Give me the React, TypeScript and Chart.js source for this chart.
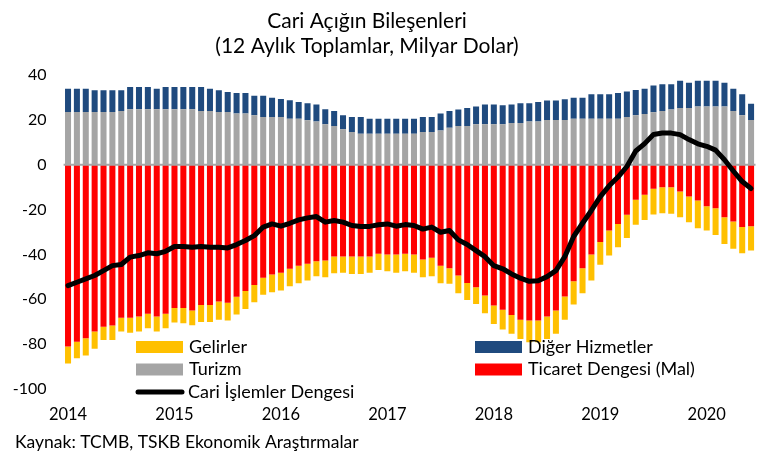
import { useEffect, useRef } from 'react';
import { Chart, registerables } from 'chart.js';

Chart.register(...registerables);

const years = ['2014', '2015', '2016', '2017', '2018', '2019', '2020'];
const monthsPerYear = 12;
const monthCount = 78; // Jan 2014 .. Jun 2020
const categories: string[] = [];
for (let i = 0; i < monthCount; i++) {
  const y = years[Math.floor(i / monthsPerYear)];
  const m = String((i % monthsPerYear) + 1).padStart(2, '0');
  categories.push(`${y}-${m}`);
}

// Ticaret Dengesi (Mal)
const ticaret = [
  -81.1, -78.9, -77.4, -74.4, -72.2, -71.7, -68.2, -68.2, -67.7, -66.5, -67.7, -66.5,
  -63.9, -63.9, -65.0, -62.5, -62.5, -61.0, -61.6, -58.9, -56.3, -53.6, -50.4, -49.0,
  -48.2, -46.4, -45.0, -44.2, -43.0, -42.7, -40.9, -40.9, -40.9, -40.9, -40.9, -39.7,
  -40.0, -40.0, -39.7, -40.0, -42.3, -41.5, -45.0, -46.2, -49.4, -52.7, -54.6, -58.3,
  -62.8, -64.7, -67.0, -69.1, -69.5, -69.5, -67.7, -65.0, -58.8, -52.0, -46.2, -40.0,
  -34.5, -29.3, -26.4, -22.3, -15.6, -13.4, -10.7, -10.0, -10.0, -11.9, -14.2, -15.9,
  -18.5, -19.4, -23.4, -25.3, -27.8, -27.4,
];

// Gelirler
const gelirler = [
  -7.5, -7.4, -7.7, -7.7, -5.9, -6.4, -6.2, -6.7, -6.7, -6.4, -6.7, -6.4,
  -6.4, -6.8, -6.6, -7.6, -7.6, -8.1, -7.9, -7.9, -8.0, -7.7, -7.6, -7.9,
  -7.9, -7.8, -7.9, -7.4, -6.7, -7.5, -7.5, -7.3, -7.8, -7.8, -7.3, -7.2,
  -7.5, -8.2, -7.8, -8.2, -7.9, -8.2, -7.9, -6.9, -7.9, -7.6, -7.5, -7.9,
  -8.2, -8.8, -8.4, -8.6, -9.7, -9.7, -10.0, -10.4, -10.3, -10.3, -11.1, -11.6,
  -10.1, -11.2, -10.4, -10.4, -11.2, -11.2, -11.5, -11.6, -11.9, -11.5, -11.4, -12.4,
  -10.8, -11.9, -11.9, -12.2, -11.7, -10.9,
];

// Turizm
const turizm = [
  23.5, 23.5, 23.5, 23.5, 23.5, 23.5, 24.0, 24.7, 24.7, 24.7, 24.7, 24.7,
  24.7, 24.7, 24.7, 24.0, 24.0, 23.5, 23.5, 22.8, 22.8, 22.0, 21.3, 21.3,
  21.3, 20.5, 20.5, 19.8, 19.3, 18.0, 17.3, 15.8, 14.6, 13.8, 13.8, 13.8,
  13.8, 13.8, 13.8, 13.8, 14.6, 14.6, 15.3, 16.5, 17.3, 17.3, 18.0, 18.0,
  18.0, 18.0, 18.6, 18.6, 19.3, 19.3, 19.9, 19.9, 19.9, 20.5, 20.5, 20.5,
  20.5, 20.5, 20.5, 21.3, 22.0, 22.6, 23.4, 24.0, 24.6, 25.3, 25.3, 25.9,
  25.9, 25.9, 25.9, 24.0, 22.0, 19.9,
];

// Diğer Hizmetler
const digerHizmetler = [
  10.4, 10.4, 10.4, 9.7, 9.7, 9.7, 9.2, 10.0, 10.0, 10.0, 9.2, 10.0,
  10.0, 10.0, 10.0, 10.7, 9.9, 9.7, 8.9, 9.2, 9.2, 8.7, 9.4, 8.6,
  8.0, 8.2, 7.5, 7.6, 7.5, 6.7, 6.7, 6.2, 6.7, 7.5, 6.7, 6.7,
  6.7, 6.7, 6.7, 6.7, 6.7, 6.7, 7.5, 7.5, 7.3, 8.0, 8.0, 8.8,
  8.8, 8.5, 8.2, 8.8, 8.1, 8.7, 8.7, 8.7, 9.3, 9.4, 9.4, 10.9,
  10.9, 10.9, 11.5, 11.3, 11.3, 11.3, 11.9, 11.9, 11.3, 12.1, 11.3, 11.5,
  11.5, 11.5, 10.7, 9.9, 9.4, 7.3,
];

// Cari İşlemler Dengesi
const cariIslemler = [
  -53.9, -52.4, -50.9, -49.4, -47.2, -45.0, -44.5, -41.2, -40.5, -39.3, -39.7, -38.6,
  -36.5, -36.5, -36.8, -36.5, -36.8, -36.8, -37.1, -35.6, -33.8, -31.6, -27.8, -26.4,
  -27.4, -26.1, -24.6, -23.7, -23.1, -25.6, -24.9, -25.6, -27.1, -27.5, -27.5, -26.8,
  -26.4, -27.4, -26.7, -27.1, -28.7, -27.8, -30.1, -29.3, -33.5, -35.6, -38.3, -41.0,
  -45.0, -46.4, -48.7, -50.6, -52.0, -51.7, -49.9, -47.2, -41.0, -32.0, -26.1, -20.4,
  -14.2, -9.4, -5.5, -0.8, 6.1, 9.4, 13.5, 14.1, 14.1, 13.4, 11.2, 9.3,
  8.2, 6.5, 2.2, -2.8, -7.5, -10.6,
];

const yTicks = [-100, -80, -60, -40, -20, 0, 20, 40];

const FONT = 'Lato, "Open Sans", sans-serif';
const RED = '#FF0000';
const YELLOW = '#FFC000';
const GRAY = '#A5A5A5';
const BLUE = '#1F4A7E';

const overlayPlugin = {
  id: 'overlay',
  beforeDatasetDraw(chart: any, args: any) {
    if (args.meta.type !== 'line') return;
    const { ctx, chartArea } = chart;
    const y0 = chart.scales.y.getPixelForValue(0);
    ctx.save();
    ctx.strokeStyle = '#A6A6A6';
    ctx.lineWidth = 2;
    ctx.beginPath();
    ctx.moveTo(chartArea.left, y0);
    ctx.lineTo(chartArea.right, y0);
    ctx.stroke();
    ctx.restore();
  },
  afterDraw(chart: any) {
    const { ctx } = chart;
    ctx.save();
    ctx.fillStyle = '#000';
    ctx.textAlign = 'center';
    ctx.textBaseline = 'alphabetic';
    ctx.font = `21px ${FONT}`;
    ctx.fillText('Cari Açığın Bileşenleri', 367, 28);
    ctx.fillText('(12 Aylık Toplamlar, Milyar Dolar)', 367, 53);

    // legend
    ctx.font = `18px ${FONT}`;
    ctx.textAlign = 'left';
    ctx.textBaseline = 'middle';
    const box = (x: number, y: number, c: string, label: string) => {
      ctx.fillStyle = c;
      ctx.fillRect(x, y - 6, 47, 12);
      ctx.fillStyle = '#000';
      ctx.fillText(label, x + 53, y);
    };
    box(136, 347, YELLOW, 'Gelirler');
    box(136, 369.5, GRAY, 'Turizm');
    box(475, 347, BLUE, 'Diğer Hizmetler');
    box(475, 369.5, RED, 'Ticaret Dengesi (Mal)');
    ctx.strokeStyle = '#000';
    ctx.lineWidth = 5;
    ctx.lineCap = 'round';
    ctx.beginPath();
    ctx.moveTo(138, 392);
    ctx.lineTo(182, 392);
    ctx.stroke();
    ctx.fillText('Cari İşlemler Dengesi', 188, 392);

    // source
    ctx.font = `17.5px ${FONT}`;
    ctx.textBaseline = 'alphabetic';
    ctx.fillText('Kaynak: TCMB, TSKB Ekonomik Araştırmalar', 15, 448);
    ctx.restore();
  },
};

export default function App() {
  const ref = useRef<HTMLCanvasElement | null>(null);
  useEffect(() => {
    if (!ref.current) return;
    const barCommon = {
      type: 'bar' as const,
      stack: 'main',
      barPercentage: 0.68,
      categoryPercentage: 1,
      borderWidth: 0,
      order: 1,
    };
    const chart = new Chart(ref.current, {
      type: 'bar',
      data: {
        labels: categories,
        datasets: [
          { ...barCommon, label: 'Ticaret Dengesi (Mal)', data: ticaret, backgroundColor: RED },
          { ...barCommon, label: 'Gelirler', data: gelirler, backgroundColor: YELLOW },
          { ...barCommon, label: 'Turizm', data: turizm, backgroundColor: GRAY },
          { ...barCommon, label: 'Diğer Hizmetler', data: digerHizmetler, backgroundColor: BLUE },
          {
            type: 'line' as const,
            label: 'Cari İşlemler Dengesi',
            data: cariIslemler,
            stack: 'cari',
            borderColor: '#000',
            backgroundColor: '#000',
            borderWidth: 5,
            pointRadius: 0,
            tension: 0,
            borderJoinStyle: 'round',
            borderCapStyle: 'round',
            order: 0,
          } as any,
        ],
      },
      options: {
        animation: false,
        responsive: false,
        maintainAspectRatio: false,
        layout: { padding: { top: 75, right: 12.5, bottom: 0, left: 0 } },
        plugins: {
          legend: { display: false },
          title: { display: false },
          tooltip: { enabled: false },
        },
        scales: {
          x: {
            stacked: true,
            grid: { display: false, drawTicks: false },
            border: { display: false },
            ticks: {
              autoSkip: false,
              maxRotation: 0,
              minRotation: 0,
              padding: 16,
              color: '#000',
              font: { family: FONT, size: 16.5 },
              callback: (_v: any, i: number) => (i % monthsPerYear === 0 ? years[i / monthsPerYear] : ''),
            },
            afterFit: (s: any) => {
              s.height = 70;
            },
          },
          y: {
            stacked: true,
            min: -100,
            max: 40,
            afterBuildTicks: (s: any) => {
              s.ticks = yTicks.map((v) => ({ value: v }));
            },
            grid: { display: false, drawTicks: false },
            border: { display: false },
            ticks: {
              padding: 17,
              color: '#000',
              font: { family: FONT, size: 16 },
            },
            afterFit: (s: any) => {
              s.width = 63.6;
            },
          },
        },
      },
      plugins: [overlayPlugin],
    });
    return () => chart.destroy();
  }, []);
  return (
    <div style={{ position: 'fixed', left: 0, top: 0, width: 768, height: 459, background: '#fff' }}>
      <canvas ref={ref} width={768} height={459} style={{ width: 768, height: 459 }} />
    </div>
  );
}
